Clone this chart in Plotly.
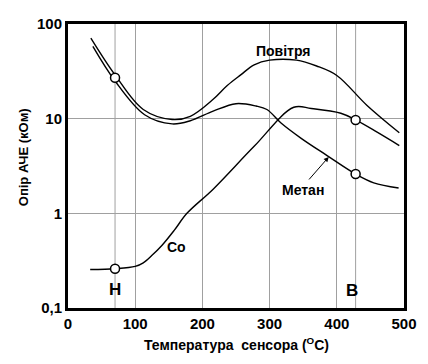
import numpy as np
import plotly.graph_objects as go

# Data
air_x = [34, 70, 112, 155, 182, 216, 237, 257, 277, 300, 340, 370, 400, 445, 493]
air_y = [71, 29, 12.5, 9.8, 10.6, 16, 22.4, 29, 37, 41.5, 41.5, 36, 28.6, 13.8, 7.1]

met_x = [37, 70, 114, 155, 182, 216, 250, 280, 296, 317, 347, 385, 428, 455, 492]
met_y = [58, 25, 11.0, 8.8, 9.5, 12, 14.4, 13.6, 12.5, 9, 6.2, 4.1, 2.6, 2.1, 1.85]

co_x = [33, 70, 100, 112, 125, 140, 158, 177, 216, 277, 336, 362, 406, 428, 460, 493]
co_y = [0.255, 0.26, 0.275, 0.3, 0.36, 0.46, 0.66, 1.0, 1.8, 5.1, 13.2, 12.8, 11.4, 9.7, 7.2, 5.2]

marker_x = [70, 70, 428, 428]
marker_y = [27, 0.26, 9.7, 2.6]

x_ticks = [0, 100, 200, 300, 400, 500]
y_ticks = [0.1, 1, 10, 100]
y_ticktext = ["0,1", "1", "10", "100"]
h_x, b_x = 70, 428

FONT = "Liberation Sans, Arial, sans-serif"
line = dict(color="black", width=1.4)

fig = go.Figure()
for xs, ys in [(air_x, air_y), (met_x, met_y), (co_x, co_y)]:
    fig.add_trace(go.Scatter(x=xs, y=ys, mode="lines", line=line,
                             line_shape="spline", hoverinfo="skip"))
fig.add_trace(go.Scatter(x=marker_x, y=marker_y, mode="markers",
                         marker=dict(symbol="circle", size=9, color="white",
                                     line=dict(color="black", width=1.5))))

for xv in [h_x, b_x]:
    fig.add_shape(type="line", xref="x", yref="paper", x0=xv, x1=xv, y0=0, y1=1,
                  line=dict(color="#a0a0a0", width=1), layer="below")

ann_font = dict(family=FONT, size=14, color="black")
fig.add_annotation(x=321, y=np.log10(51.6), text="<b>Повітря</b>", showarrow=False, font=ann_font)
fig.add_annotation(x=350, y=np.log10(1.76), text="<b>Метан</b>", showarrow=False, font=ann_font)
fig.add_annotation(x=388, y=np.log10(3.94), text="", showarrow=True, arrowhead=2,
                   arrowsize=1, arrowwidth=1, arrowcolor="black", ax=-21, ay=24,
                   xref="x", yref="y")
fig.add_annotation(x=162, y=np.log10(0.44), text="<b>Co</b>", showarrow=False, font=ann_font)
fig.add_annotation(x=h_x, y=np.log10(0.155), text="<b>H</b>", showarrow=False,
                   font=dict(family=FONT, size=17, color="black"))
fig.add_annotation(x=b_x - 5, y=np.log10(0.153), text="<b>B</b>", showarrow=False,
                   font=dict(family=FONT, size=17, color="black"))
fig.add_annotation(x=251, y=-0.126, xref="x", yref="paper",
                   text="<b>Температура  сенсора (<sup>O</sup>C)</b>", showarrow=False,
                   font=ann_font, yanchor="middle")
fig.add_annotation(x=-0.16, y=0.53, xref="paper", yref="paper",
                   text="<b>Опір АЧЕ (кОм)</b>", showarrow=False, textangle=-90,
                   font=dict(family=FONT, size=13, color="black"))

fig.update_layout(
    width=420, height=356,
    margin=dict(l=60, r=24, t=7, b=56),
    plot_bgcolor="white", paper_bgcolor="white",
    showlegend=False,
    font=dict(family=FONT, size=14, color="black"),
)
fig.update_xaxes(range=[0, 500], tickvals=x_ticks,
                 ticktext=[f"<b>{v}</b>" for v in x_ticks],
                 showgrid=True, gridcolor="#a0a0a0", gridwidth=1,
                 showline=True, linecolor="black", linewidth=3, mirror=True,
                 ticks="", zeroline=False, tickfont=dict(size=15))
fig.update_yaxes(type="log", range=[-1, 2], tickvals=y_ticks,
                 ticktext=[f"<b>{t}</b>" for t in y_ticktext],
                 showgrid=True, gridcolor="#a0a0a0", gridwidth=1,
                 showline=True, linecolor="black", linewidth=3, mirror=True,
                 ticks="", zeroline=False, tickfont=dict(size=15))

fig.write_html("out.html")
